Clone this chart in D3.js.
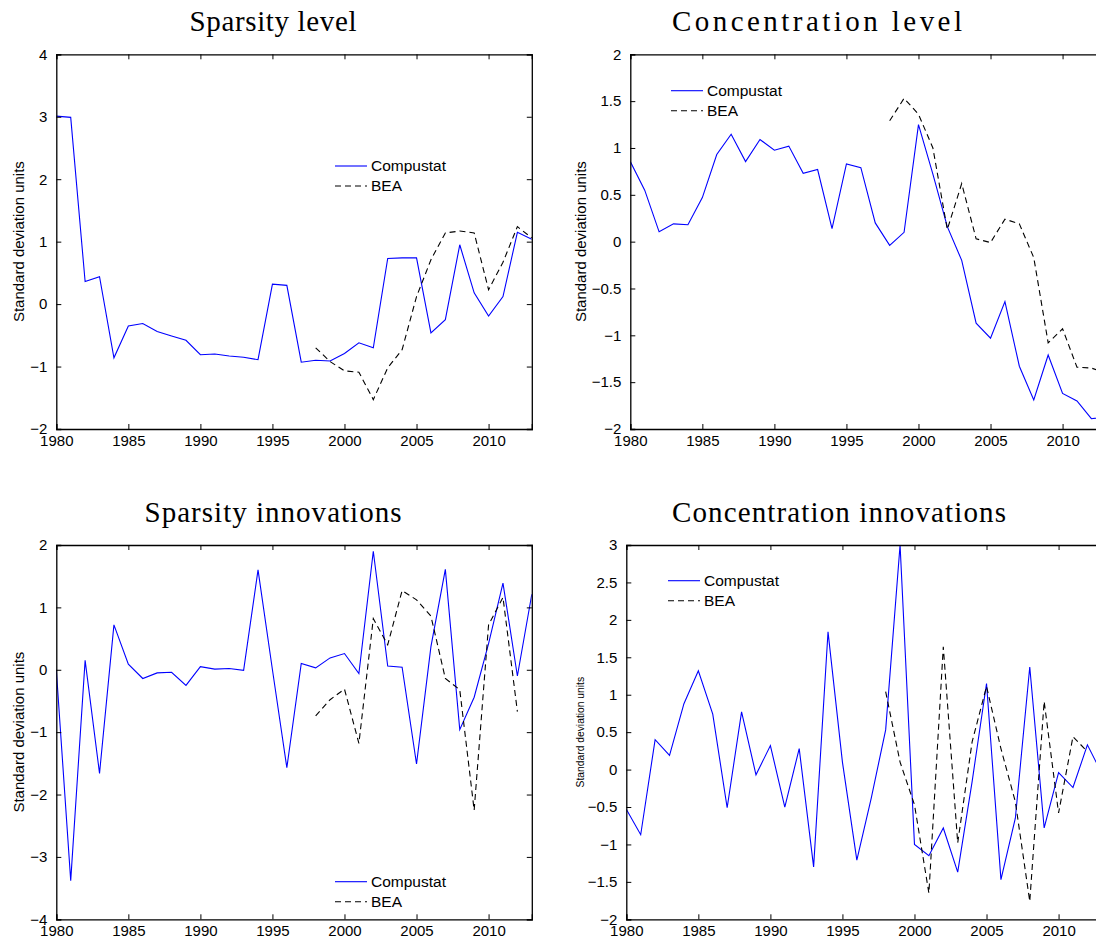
<!DOCTYPE html>
<html>
<head>
<meta charset="utf-8">
<script src="https://cdn.jsdelivr.net/npm/d3@7"></script>
<style>
  body { margin: 0; background: #fff; }
  svg { display: block; }
  .tick-label { font-family: "Liberation Sans", Arial, sans-serif; font-size: 15px; fill: #000; }
  .title { font-family: "Liberation Serif", "DejaVu Serif", serif; font-size: 29px; fill: #000; }
  .legend { font-family: "Liberation Sans", Arial, sans-serif; font-size: 15.5px; fill: #000; }
</style>
</head>
<body>
<div id="chart"></div>
<script>
// years on the x axis
var years = [1980, 1981, 1982, 1983, 1984, 1985, 1986, 1987, 1988, 1989, 1990, 1991,
  1992, 1993, 1994, 1995, 1996, 1997, 1998, 1999, 2000, 2001, 2002, 2003, 2004,
  2005, 2006, 2007, 2008, 2009, 2010, 2011, 2012, 2013];
var beaYears = [1998, 1999, 2000, 2001, 2002, 2003, 2004, 2005, 2006, 2007, 2008,
  2009, 2010, 2011, 2012, 2013];
var xTicks = [1980, 1985, 1990, 1995, 2000, 2005, 2010];

// Sparsity level
var sparsLevelComp = [3.01, 2.99, 0.36, 0.44, -0.86, -0.35, -0.31, -0.44, -0.51, -0.58,
  -0.81, -0.80, -0.83, -0.85, -0.89, 0.32, 0.30, -0.93, -0.90, -0.91, -0.79, -0.62,
  -0.70, 0.73, 0.74, 0.74, -0.46, -0.25, 0.95, 0.18, -0.19, 0.12, 1.15, 1.04];
var sparsLevelBEA = [-0.70, -0.92, -1.07, -1.09, -1.53, -1.02, -0.73, 0.12, 0.71,
  1.14, 1.17, 1.14, 0.23, 0.67, 1.24, 1.06];

// Concentration level
var concLevelComp = [0.855, 0.55, 0.105, 0.19, 0.18, 0.47, 0.93, 1.147, 0.855, 1.09,
  0.976, 1.02, 0.73, 0.77, 0.14, 0.83, 0.79, 0.20, -0.04, 0.10, 1.25, 0.72, 0.16,
  -0.20, -0.87, -1.03, -0.64, -1.33, -1.69, -1.21, -1.62, -1.70, -1.89, -1.87];
var concLevelBEA = [1.29, 1.53, 1.36, 1.0, 0.13, 0.62, 0.03, -0.01, 0.24, 0.19, -0.17,
  -1.08, -0.93, -1.34, -1.35, -1.40];

// Sparsity innovations
var sparsInnovComp = [0.0, -3.38, 0.15, -1.66, 0.72, 0.09, -0.14, -0.05, -0.04, -0.25,
  0.05, 0.01, 0.02, -0.01, 1.60, 0.0, -1.57, 0.10, 0.03, 0.19, 0.26, -0.06, 1.90,
  0.06, 0.04, -1.51, 0.37, 1.61, -0.96, -0.44, 0.42, 1.39, -0.10, 1.21];
var sparsInnovBEA = [-0.74, -0.48, -0.31, -1.18, 0.82, 0.40, 1.27, 1.12, 0.86, -0.14,
  -0.32, -2.25, 0.72, 1.16, -0.67];

// Concentration innovations
var concInnovComp = [-0.53, -0.87, 0.40, 0.19, 0.88, 1.32, 0.74, -0.51, 0.77, -0.07,
  0.32, -0.50, 0.28, -1.30, 1.84, 0.10, -1.21, -0.38, 0.53, 3.0, -1.0, -1.15, -0.78,
  -1.37, -0.16, 1.15, -1.47, -0.65, 1.37, -0.78, -0.04, -0.24, 0.33, -0.05];
var concInnovBEA = [1.04, 0.10, -0.47, -1.65, 1.64, -0.98, 0.37, 1.11, 0.28, -0.43,
  -1.76, 0.91, -0.58, 0.44, 0.24];

var yTicks1 = [-2, -1, 0, 1, 2, 3, 4];
var yTicks2 = [-2, -1.5, -1, -0.5, 0, 0.5, 1, 1.5, 2];
var yTicks3 = [-4, -3, -2, -1, 0, 1, 2];
var yTicks4 = [-2, -1.5, -1, -0.5, 0, 0.5, 1, 1.5, 2, 2.5, 3];

var width = 1096, height = 944;
var svg = d3.select("#chart").append("svg")
  .attr("width", width)
  .attr("height", height);

var panels = [
  { title: "Sparsity level", titleX: 273, titleY: 31, titleW: 167, left: 56.3, top: 54.3, bottom: 429,
    yDomain: [-2, 4], yTicks: yTicks1, comp: sparsLevelComp, bea: sparsLevelBEA,
    ylabX: 19, ylabSize: 15, legX: 335, legY: 166 },
  { title: "Concentration level", titleX: 817, titleY: 31, titleW: 290, left: 630.3, top: 54.3, bottom: 429,
    yDomain: [-2, 2], yTicks: yTicks2, comp: concLevelComp, bea: concLevelBEA,
    ylabX: 581, ylabSize: 15, legX: 671, legY: 90.7 },
  { title: "Sparsity innovations", titleX: 273, titleY: 522, titleW: 257, left: 56.3, top: 545, bottom: 919.3,
    yDomain: [-4, 2], yTicks: yTicks3, comp: sparsInnovComp, bea: sparsInnovBEA,
    ylabX: 19, ylabSize: 15, legX: 335, legY: 881.7 },
  { title: "Concentration innovations", titleX: 839, titleY: 522, titleW: 334, left: 626.3, top: 545, bottom: 919.3,
    yDomain: [-2, 3], yTicks: yTicks4, comp: concInnovComp, bea: concInnovBEA,
    ylabX: 580, ylabSize: 10.3, legX: 668, legY: 580.7 }
];

var fmt = function (v) {
  var s = String(Math.abs(v));
  return (v < 0 ? "\u2212" : "") + s;
};

panels.forEach(function (p, i) {
  var plotW = 475.5;
  var x = d3.scaleLinear().domain([1980, 2013]).range([p.left, p.left + plotW]);
  var y = d3.scaleLinear().domain(p.yDomain).range([p.bottom, p.top]);
  var g = svg.append("g");

  // title
  g.append("text")
    .attr("class", "title")
    .attr("x", p.titleX)
    .attr("y", p.titleY)
    .attr("text-anchor", "middle")
    .attr("textLength", p.titleW)
    .attr("lengthAdjust", "spacing")
    .text(p.title);

  // clip for the lines
  var clipId = "clip" + i;
  svg.append("clipPath").attr("id", clipId)
    .append("rect")
    .attr("x", p.left).attr("y", p.top - 1)
    .attr("width", plotW).attr("height", p.bottom - p.top + 2);

  var line = d3.line()
    .x(function (d) { return x(d[0]); })
    .y(function (d) { return y(d[1]); });

  var compPts = years.map(function (yr, k) { return [yr, p.comp[k]]; });
  var beaPts = p.bea.map(function (v, k) { return [beaYears[k], v]; });

  g.append("path")
    .attr("clip-path", "url(#" + clipId + ")")
    .attr("d", line(compPts))
    .attr("fill", "none")
    .attr("stroke", "#0000ff")
    .attr("stroke-width", 1.1);

  g.append("path")
    .attr("clip-path", "url(#" + clipId + ")")
    .attr("d", line(beaPts))
    .attr("fill", "none")
    .attr("stroke", "#000")
    .attr("stroke-width", 1.1)
    .attr("stroke-dasharray", "6,4");

  // axes (MATLAB style: inward ticks on all four sides)
  var tickLen = 5;
  var xBottom = d3.axisBottom(x).tickValues(xTicks).tickSize(-tickLen).tickPadding(tickLen + 3)
    .tickFormat(d3.format("d"));
  var xTop = d3.axisTop(x).tickValues(xTicks).tickSize(-tickLen).tickFormat("");
  var yLeft = d3.axisLeft(y).tickValues(p.yTicks).tickSize(-tickLen).tickPadding(tickLen + 4)
    .tickFormat(fmt);
  var yRight = d3.axisRight(y).tickValues(p.yTicks).tickSize(-tickLen).tickFormat("");

  var ax = [
    g.append("g").attr("transform", "translate(0," + p.bottom + ")").call(xBottom),
    g.append("g").attr("transform", "translate(0," + p.top + ")").call(xTop),
    g.append("g").attr("transform", "translate(" + p.left + ",0)").call(yLeft),
    g.append("g").attr("transform", "translate(" + (p.left + plotW) + ",0)").call(yRight)
  ];
  ax.forEach(function (a) {
    a.select(".domain").attr("stroke", "#000").attr("stroke-width", 1.3);
    a.selectAll(".tick line").attr("stroke", "#000").attr("stroke-width", 1);
    a.selectAll(".tick text")
      .attr("class", "tick-label")
      .attr("font-family", null).attr("font-size", null);
  });
  ax[0].selectAll(".tick text").attr("dy", "0.6em");

  // y label
  g.append("text")
    .attr("transform", "translate(" + p.ylabX + "," + ((p.top + p.bottom) / 2) + ") rotate(-90)")
    .attr("text-anchor", "middle")
    .attr("dy", "0.35em")
    .attr("font-family", "Liberation Sans, Arial, sans-serif")
    .attr("font-size", p.ylabSize)
    .text("Standard deviation units");

  // legend
  var leg = g.append("g").attr("transform", "translate(" + p.legX + "," + p.legY + ")");
  leg.append("line").attr("x1", 0).attr("x2", 32).attr("y1", 0).attr("y2", 0)
    .attr("stroke", "#0000ff").attr("stroke-width", 1.1);
  leg.append("text").attr("class", "legend").attr("x", 36).attr("y", 0).attr("dy", "0.35em")
    .text("Compustat");
  leg.append("line").attr("x1", 0).attr("x2", 32).attr("y1", 20).attr("y2", 20)
    .attr("stroke", "#000").attr("stroke-width", 1.1).attr("stroke-dasharray", "6,4");
  leg.append("text").attr("class", "legend").attr("x", 36).attr("y", 20).attr("dy", "0.35em")
    .text("BEA");
});
</script>
</body>
</html>
